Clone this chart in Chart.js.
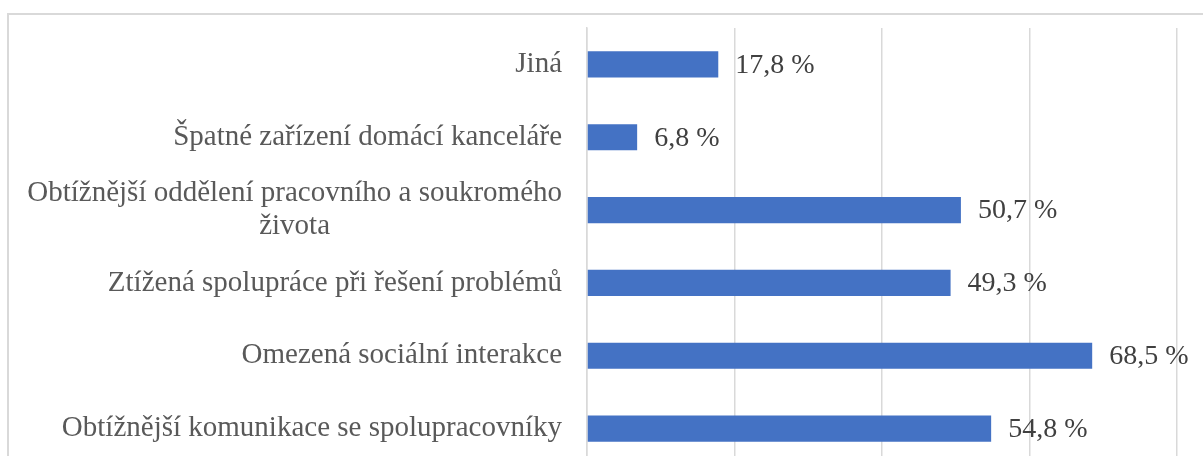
<!DOCTYPE html>
<html>
<head>
<meta charset="utf-8">
<script src="https://cdn.jsdelivr.net/npm/chart.js@4"></script>
<style>
  html, body { margin: 0; padding: 0; background: #fff; overflow: hidden; }
  #wrap { position: absolute; left: 0; top: 0; width: 1203px; height: 480px; }
</style>
</head>
<body>
<div id="wrap"><canvas id="chart"></canvas></div>
<script>
// kategorie (shora dolů) a hodnoty v %
const categories = [
  'Jiná',
  'Špatné zařízení domácí kanceláře',
  ['Obtížnější oddělení pracovního a soukromého', 'života'],
  'Ztížená spolupráce při řešení problémů',
  'Omezená sociální interakce',
  'Obtížnější komunikace se spolupracovníky'
];
const values = [17.8, 6.8, 50.7, 49.3, 68.5, 54.8];
const xTicks = [0, 20, 40, 60, 80];

const SERIF = '"Liberation Serif", "Times New Roman", serif';
const LABEL_FONT = '29px ' + SERIF;

// víceřádkový popisek: další řádky vycentrovat pod první (doplnění mezerami)
const measureCtx = document.createElement('canvas').getContext('2d');
function centerLines(label) {
  if (!Array.isArray(label)) return label;
  measureCtx.font = LABEL_FONT;
  const w0 = measureCtx.measureText(label[0]).width;
  const sp = measureCtx.measureText(' ').width;
  return label.map((line, i) => {
    if (i === 0) return line;
    const n = Math.round((w0 - measureCtx.measureText(line).width) / 2 / sp);
    return line + ' '.repeat(Math.max(0, n));
  });
}

// rámeček grafu (jako v Excelu)
const frame = {
  id: 'frame',
  beforeDraw(chart) {
    const c = chart.ctx;
    c.save();
    c.strokeStyle = '#d9d9d9';
    c.lineWidth = 2;
    c.strokeRect(8, 14, 1300, 600);
    c.restore();
  }
};

// popisky hodnot za koncem pruhu
const valueLabels = {
  id: 'valueLabels',
  afterDatasetsDraw(chart) {
    const c = chart.ctx;
    const meta = chart.getDatasetMeta(0);
    c.save();
    c.font = '28px ' + SERIF;
    c.fillStyle = '#404040';
    c.textAlign = 'left';
    c.textBaseline = 'middle';
    meta.data.forEach((bar, i) => {
      const txt = values[i].toFixed(1).replace('.', ',') + ' %';
      c.fillText(txt, bar.x + 17, bar.y + 1);
    });
    c.restore();
  }
};

new Chart(document.getElementById('chart'), {
  type: 'bar',
  data: {
    labels: categories,
    datasets: [{
      data: values,
      backgroundColor: '#4472c4',
      borderWidth: 0,
      categoryPercentage: 0.8,
      barPercentage: 0.45
    }]
  },
  options: {
    indexAxis: 'y',
    responsive: true,
    maintainAspectRatio: false,
    animation: false,
    layout: { padding: { top: 28, right: 26, bottom: 15, left: 0 } },
    plugins: {
      legend: { display: false },
      tooltip: { enabled: false }
    },
    scales: {
      x: {
        min: xTicks[0],
        max: xTicks[xTicks.length - 1],
        afterBuildTicks: s => { s.ticks = xTicks.map(v => ({ value: v })); },
        afterFit: s => { s.height = 0; s.paddingLeft = 0; s.paddingRight = 0; },
        ticks: { display: false },
        grid: { color: '#d9d9d9', lineWidth: 1.5, drawTicks: false },
        border: { display: false }
      },
      y: {
        afterFit: s => { s.width = 587; s.paddingTop = 0; s.paddingBottom = 0; },
        grid: { display: false, drawTicks: false },
        border: { display: true, color: '#d9d9d9', width: 1.5 },
        ticks: {
          color: '#595959',
          font: { family: SERIF, size: 29, lineHeight: 1.15 },
          padding: 25,
          autoSkip: false,
          callback: function (value) {
            return centerLines(this.getLabelForValue(value));
          }
        }
      }
    }
  },
  plugins: [frame, valueLabels]
});
</script>
</body>
</html>
